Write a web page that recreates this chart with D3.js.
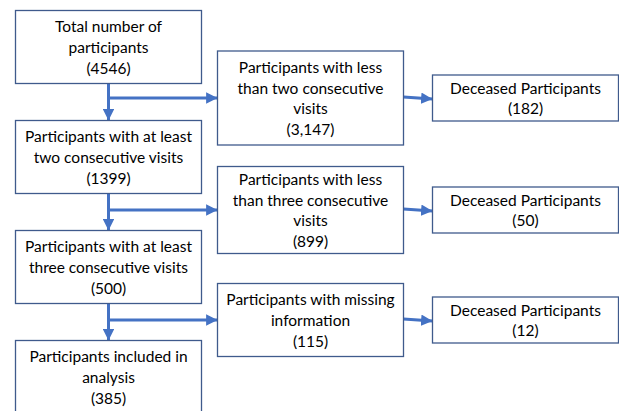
<!DOCTYPE html>
<html>
<head>
<meta charset="utf-8">
<script src="https://cdn.jsdelivr.net/npm/d3@7"></script>
<style>
  body { margin: 0; background: #fff; }
  svg { display: block; }
  text { font-family: Lato, "Open Sans", sans-serif; font-size: 15.5px; fill: #000; }
</style>
</head>
<body>
<div id="container"></div>
<script>
const width = 619;
const height = 411;

// Flow data: main column, excluded column, deceased column
const mainLabels = [
	["Total number of", "participants"],
	["Participants with at least", "two consecutive visits"],
	["Participants with at least", "three consecutive visits"],
	["Participants included in", "analysis"]
];
const mainCounts = ["4546", "1399", "500", "385"];

const excludedLabels = [
	["Participants with less", "than two consecutive", "visits"],
	["Participants with less", "than three consecutive", "visits"],
	["Participants with missing", "information"]
];
const excludedCounts = ["3,147", "899", "115"];

const deceasedLabel = "Deceased Participants";
const deceasedCounts = ["182", "50", "12"];

// layout
const lineH = 20.7;
const boxW = 186;
const colX = d3.scaleOrdinal()
	.domain(["main", "excluded", "deceased"])
	.range([15.5, 217.5, 432.5]);
const rowTop = d3.scalePoint().domain(d3.range(mainLabels.length)).range([10.5, 340.5]);
const mainH = 73;
const excludedH = [94, 87, 73];
const deceasedH = 46;
const branchY = [98, 210, 320];

const stroke = "#3f5a8c";
const arrowCol = "#4472c4";

let svg = d3.select("#container")
	.append("svg")
	.attr("width", width)
	.attr("height", height);

svg.append("defs").append("marker")
	.attr("id", "head")
	.attr("viewBox", "0 0 10 10")
	.attr("refX", 10)
	.attr("refY", 5)
	.attr("markerWidth", 3.8)
	.attr("markerHeight", 3.8)
	.attr("markerUnits", "strokeWidth")
	.attr("orient", "auto")
	.append("path")
	.attr("d", "M0,0 L10,5 L0,10 Z")
	.attr("fill", arrowCol);

// draws a box with centered lines of text
function drawBox(x0, y0, w, h, lines) {
	let g = svg.append("g");
	g.append("rect")
		.attr("x", x0).attr("y", y0)
		.attr("width", w).attr("height", h)
		.attr("fill", "#fff")
		.attr("stroke", stroke)
		.attr("stroke-width", 1.3);
	let cy = y0 + h / 2;
	let first = cy - (lines.length - 1) * lineH / 2;
	g.selectAll("text")
		.data(lines)
		.enter()
		.append("text")
		.attr("x", x0 + w / 2)
		.attr("y", (d, i) => first + i * lineH)
		.attr("text-anchor", "middle")
		.attr("dominant-baseline", "central")
		.text(d => d);
}

function arrow(x1, y1, x2, y2) {
	svg.append("line")
		.attr("x1", x1).attr("y1", y1)
		.attr("x2", x2).attr("y2", y2)
		.attr("stroke", arrowCol)
		.attr("stroke-width", 3)
		.attr("marker-end", "url(#head)");
}

const midX = colX("main") + boxW / 2;

// arrows first so boxes sit on top
for (let i = 0; i < excludedLabels.length; i++) {
	arrow(midX, rowTop(i) + mainH, midX, rowTop(i + 1));
	arrow(midX, branchY[i], colX("excluded"), branchY[i]);
	arrow(colX("excluded") + boxW, branchY[i] - 1, colX("deceased"), branchY[i] + 1);
}

mainLabels.forEach((lab, i) => {
	drawBox(colX("main"), rowTop(i), boxW, mainH, lab.concat(["(" + mainCounts[i] + ")"]));
});

excludedLabels.forEach((lab, i) => {
	let h = excludedH[i];
	drawBox(colX("excluded"), branchY[i] - h / 2, boxW, h, lab.concat(["(" + excludedCounts[i] + ")"]));
});

deceasedCounts.forEach((c, i) => {
	drawBox(colX("deceased"), branchY[i] - deceasedH / 2, boxW, deceasedH, [deceasedLabel, "(" + c + ")"]);
});
</script>
</body>
</html>
